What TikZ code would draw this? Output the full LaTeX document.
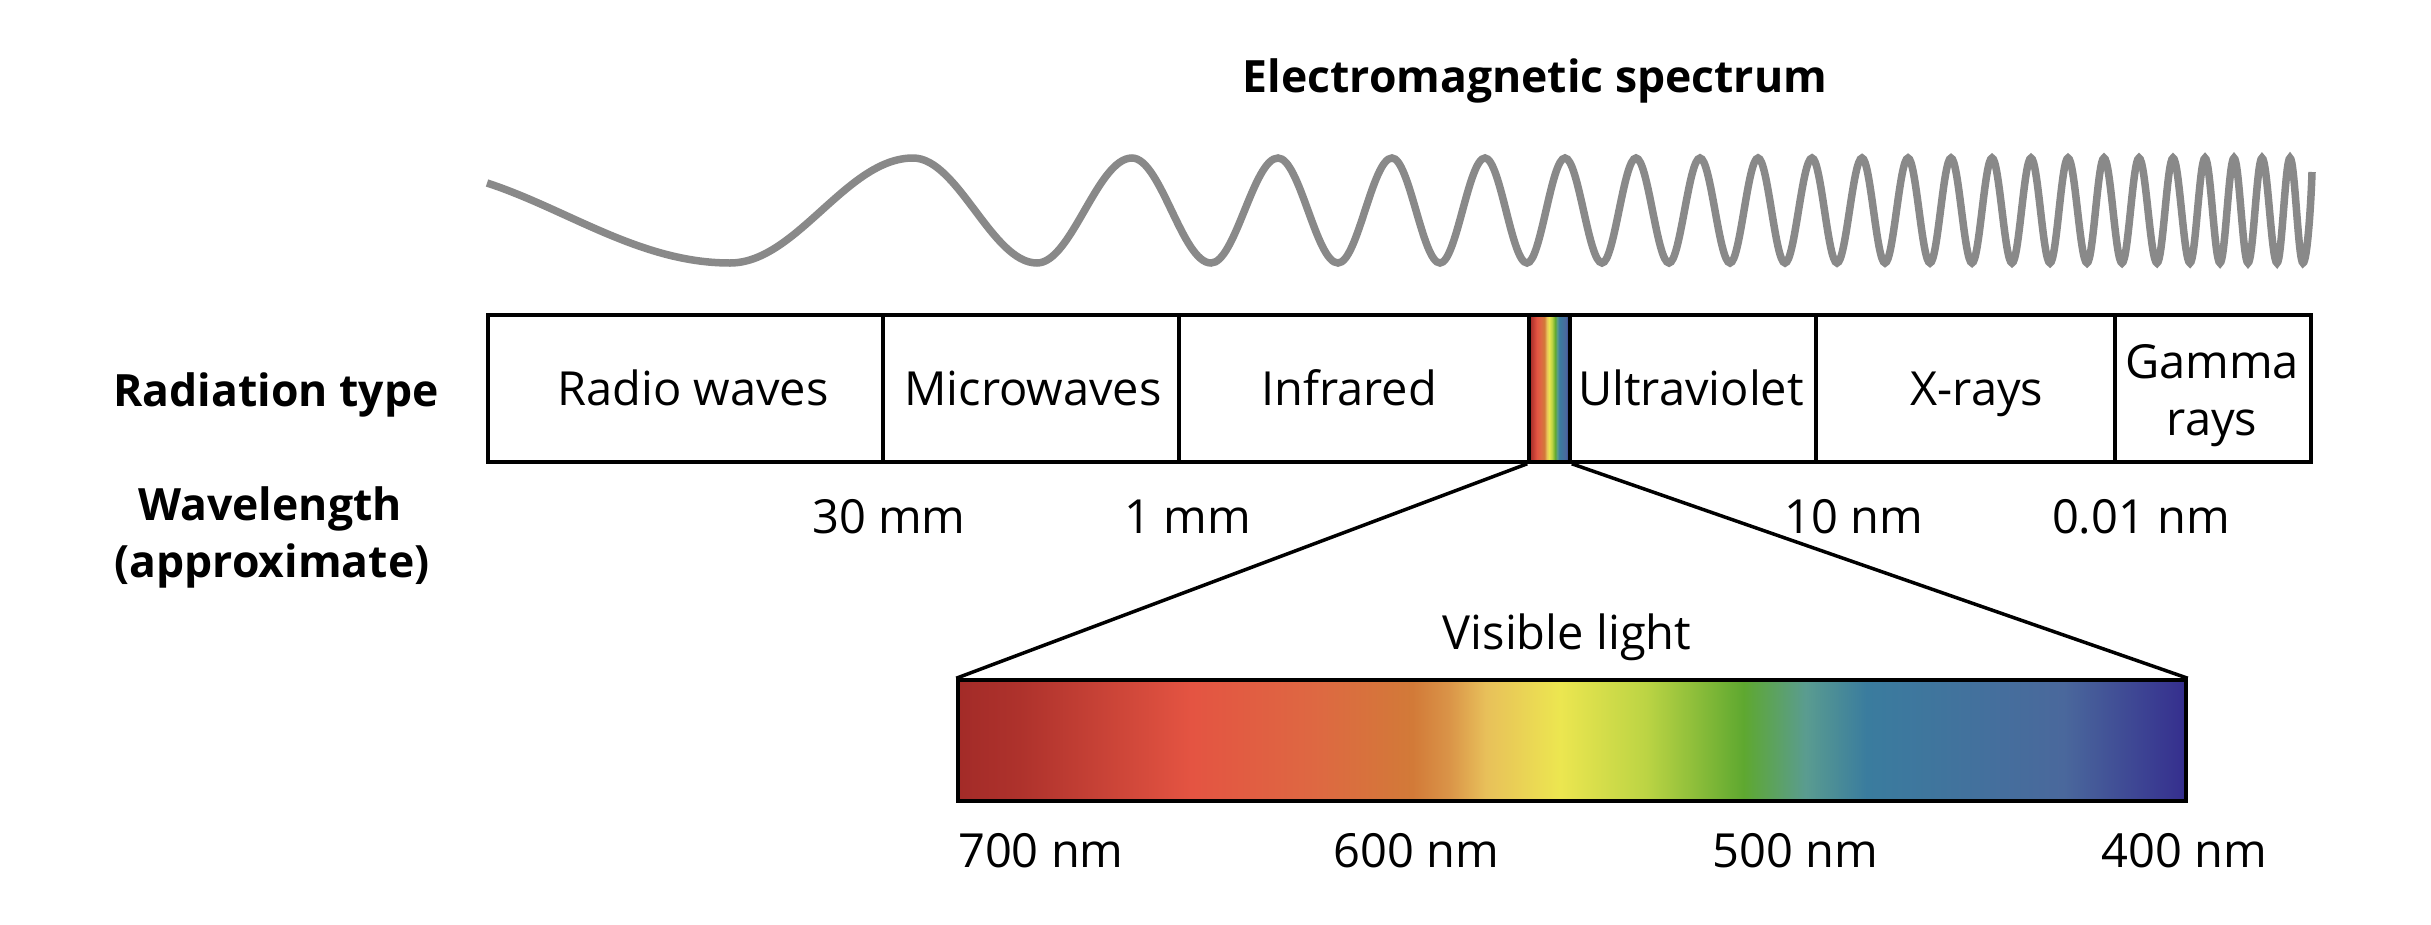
\documentclass[tikz,border=0pt]{standalone}
\usepackage{fontspec}
\setmainfont{Open Sans}
\definecolor{waveg}{HTML}{898989}
\definecolor{sA}{HTML}{A32B28}
\definecolor{sB}{HTML}{AE322C}
\definecolor{sC}{HTML}{E45442}
\definecolor{sD}{HTML}{DE6842}
\definecolor{sE}{HTML}{D27A38}
\definecolor{sF}{HTML}{DA9448}
\definecolor{sG}{HTML}{E8C05A}
\definecolor{sH}{HTML}{ECE650}
\definecolor{sI}{HTML}{BCD444}
\definecolor{sJ}{HTML}{5EA830}
\definecolor{sK}{HTML}{5A9C90}
\definecolor{sL}{HTML}{3A7C9E}
\definecolor{sM}{HTML}{4A689C}
\definecolor{sN}{HTML}{352E8E}
\pgfdeclarehorizontalshading{visspec}{100bp}{color(0bp)=(sA); color(25bp)=(sA); color(27.5bp)=(sB); color(34.5bp)=(sC); color(39.5bp)=(sD); color(43.5bp)=(sE); color(45bp)=(sF); color(46.5bp)=(sG); color(49.5bp)=(sH); color(53bp)=(sI); color(57bp)=(sJ); color(59.5bp)=(sK); color(62bp)=(sL); color(70bp)=(sM); color(75bp)=(sN); color(100bp)=(sN)}
\begin{document}
\begin{tikzpicture}[x=1pt,y=-1pt,
  txt/.style={font=\fontsize{47}{57}\selectfont, inner sep=0pt, anchor=base},
  btxt/.style={font=\fontsize{44.5}{57}\selectfont\bfseries, inner sep=0pt, anchor=base},
  cell/.style={draw=black, line width=3.5pt, inner sep=0pt, minimum height=147pt},
  wave/.style={draw=waveg, line width=7.5pt},
  conn/.style={draw=black, line width=3.5pt}]
\useasboundingbox (0,0) rectangle (2431,924);

% title
\node[btxt] (title) at (1535,92) {Electromagnetic spectrum};

% wave
\draw[wave] (487,183) .. controls (567,209) and (640,263) .. (730,263)
  foreach \x [count=\i, remember=\x as \px (initially 730), evaluate=\i as \yy using {158+105*(1-mod(\i,2))}] in
  {913,1037,1132,1211,1278,1338,1392,1440,1485,1527,1565,1602,1636,1669,1700,1730,1758,1785,1812,1837,1862,1885,1908,1930,1951,1972,1992,2012,2031,2050,2068,2087,2104,2122,2139,2157,2173,2190,2205,2220,2234,2248,2262,2277,2290,2303}
  { .. controls ({\px+0.3634*(\x-\px)},{421-\yy}) and ({\x-0.3634*(\x-\px)},\yy) .. (\x,\yy) }
  .. controls (2307,263) and (2311,205) .. (2312,172);

% radiation cells
\node[cell, minimum width=395pt] (radio) at (685.5,388.5) {};
\node[cell, minimum width=296pt] (micro) at (1031,388.5) {};
\node[cell, minimum width=350pt] (infra) at (1354,388.5) {};
\node[cell, minimum width=246pt] (uv) at (1693,388.5) {};
\node[cell, minimum width=299pt] (xray) at (1965.5,388.5) {};
\node[cell, minimum width=196pt] (gamma) at (2213,388.5) {};
\node[cell, minimum width=41pt, shading=visspec] (vis) at (1549.5,388.5) {};

\node[txt] (tradio) at (693,405) {Radio waves};
\node[txt] (tmicro) at (1033,405) {Microwaves};
\node[txt] (tinfra) at (1349,405) {Infrared};
\node[txt] (tuv) at (1691,405) {Ultraviolet};
\node[txt] (txray) at (1977,405) {X-rays};
\node[txt] (tgamma1) at (2212,378) {Gamma};
\node[txt] (tgamma2) at (2212,435) {rays};

% left labels
\node[btxt] (radtype) at (276,406) {Radiation type};
\node[btxt] (wl1) at (270,520) {Wavelength};
\node[btxt] (wl2) at (272,577) {(approximate)};

% wavelengths
\node[txt] (w30) at (889,533) {30 mm};
\node[txt] (w1) at (1188,533) {1 mm};
\node[txt] (w10) at (1854,533) {10 nm};
\node[txt] (w001) at (2141,533) {0.01 nm};

% visible light
\node[draw=black, line width=3.5pt, inner sep=0pt, minimum width=1228pt, minimum height=121pt, shading=visspec] (visrect) at (1572,740.5) {};
\draw[conn] (vis.south west) -- (visrect.north west);
\draw[conn] (vis.south east) -- (visrect.north east);
\node[txt] (vislab) at (1567,649) {Visible light};

\node[txt, anchor=base west] (n700) at (958,867) {700 nm};
\node[txt] (n600) at (1416,867) {600 nm};
\node[txt] (n500) at (1795,867) {500 nm};
\node[txt] (n400) at (2184,867) {400 nm};
\end{tikzpicture}
\end{document}
